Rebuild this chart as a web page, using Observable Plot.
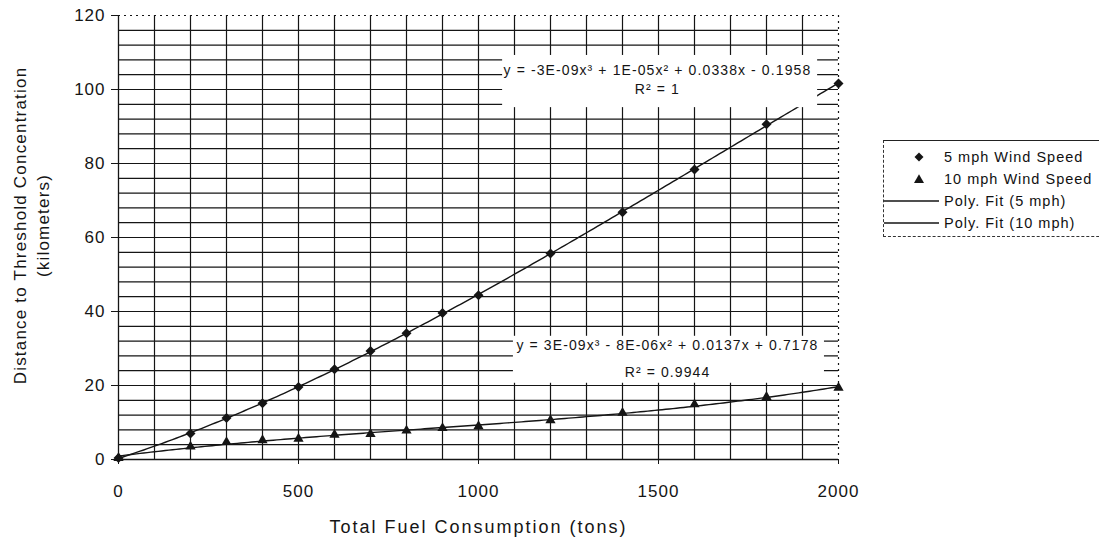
<!DOCTYPE html>
<html><head><meta charset="utf-8">
<script src="https://cdn.jsdelivr.net/npm/d3@7"></script>
<script src="https://cdn.jsdelivr.net/npm/@observablehq/plot@0.6"></script>
<style>
html,body{margin:0;padding:0;background:#fff;overflow:hidden;}
#wrap{position:relative;width:1099px;height:543px;font-family:"Liberation Sans",Arial,sans-serif;}
#legend{position:absolute;left:883px;top:140px;width:240px;border-top:1px solid #222;border-left:1px dashed #333;border-bottom:1px dashed #333;padding:5px 0 2px 0;font-size:14.5px;letter-spacing:1px;color:#111;background:#fff;}
.row{height:22px;display:flex;align-items:center;}
.row svg{width:57px;height:22px;flex:none;}
.row span{margin-left:3px;white-space:nowrap;}
</style></head>
<body><div id="wrap"></div>
<script>
// ---- data ----
const fuel   = [0, 200, 300, 400, 500, 600, 700, 800, 900, 1000, 1200, 1400, 1600, 1800, 2000];
const wind5  = [0.4, 7.0, 11.2, 15.2, 19.6, 24.4, 29.3, 34.1, 39.6, 44.4, 55.7, 66.8, 78.4, 90.6, 101.6];
const wind10 = [0.4, 3.5, 4.7, 5.2, 5.6, 6.7, 6.9, 7.8, 8.5, 9.0, 10.6, 12.6, 14.9, 16.9, 19.4];
const xTicks = [0, 500, 1000, 1500, 2000];
const yTicks = [0, 20, 40, 60, 80, 100, 120];
const seriesNames = ["5 mph Wind Speed", "10 mph Wind Speed", "Poly. Fit (5 mph)", "Poly. Fit (10 mph)"];
const xTitle = "Total Fuel Consumption (tons)";
const yTitle = ["Distance to Threshold Concentration", "(kilometers)"];
// trendline annotations
const eqText = ["y = -3E-09x³ + 1E-05x² + 0.0338x - 0.1958", "R² = 1",
                "y = 3E-09x³ - 8E-06x² + 0.0137x + 0.7178", "R² = 0.9944"];
const eqX = [1497, 1497, 1525, 1525];
const eqY = [105.1, 100.0, 30.9, 23.6];
const boxX1 = [1067, 1097], boxX2 = [1942, 1961], boxY1 = [95.1, 20.6], boxY2 = [109.2, 33.3];

// ---- derived tables ----
const pts5 = fuel.map((x, i) => ({x, y: wind5[i]}));
const pts10 = fuel.map((x, i) => ({x, y: wind10[i]}));
function cubicFit(xs, ys) {
  const n = 4, A = Array.from({length: n}, () => Array(n + 1).fill(0));
  xs.forEach((x, k) => {
    const t = x / 1000, p = [1, t, t * t, t * t * t];
    for (let i = 0; i < n; i++) { for (let j = 0; j < n; j++) A[i][j] += p[i] * p[j]; A[i][n] += p[i] * ys[k]; }
  });
  for (let c = 0; c < n; c++) {
    let piv = c;
    for (let r = c + 1; r < n; r++) if (Math.abs(A[r][c]) > Math.abs(A[piv][c])) piv = r;
    [A[c], A[piv]] = [A[piv], A[c]];
    for (let r = 0; r < n; r++) if (r !== c) { const f = A[r][c] / A[c][c]; for (let k = c; k <= n; k++) A[r][k] -= f * A[c][k]; }
  }
  const co = A.map((row, i) => row[n] / row[i]);
  return x => { const t = x / 1000; return co[0] + co[1] * t + co[2] * t * t + co[3] * t * t * t; };
}
const f5 = cubicFit(fuel, wind5), f10 = cubicFit(fuel, wind10);
const xs = d3.range(0, 2001, 10);
const fit5 = xs.map(x => ({x, y: f5(x)}));
const fit10 = xs.map(x => ({x, y: f10(x)}));
const eqs = eqText.map((t, i) => ({x: eqX[i], y: eqY[i], t}));
const boxes = boxX1.map((x1, i) => ({x1, x2: boxX2[i], y1: boxY1[i], y2: boxY2[i]}));
const xGrid = d3.range(100, 2000, 100);
const yGrid = d3.range(4, 120, 4);

const ink = "#151515";
const chart = Plot.plot({
  width: 1099, height: 543,
  marginLeft: 118, marginRight: 261, marginTop: 15, marginBottom: 84,
  style: {fontFamily: "Liberation Sans, Arial, sans-serif", fontSize: "17px", background: "transparent", color: ink, overflow: "visible"},
  x: {domain: [0, 2000]},
  y: {domain: [0, 120]},
  marks: [
    Plot.ruleX(xGrid, {stroke: ink, strokeWidth: 1.2}),
    Plot.ruleY(yGrid, {stroke: ink, strokeWidth: 1.2}),
    Plot.ruleY([120], {stroke: ink, strokeWidth: 1.2, strokeDasharray: "2,4"}),
    Plot.ruleX([2000], {stroke: ink, strokeWidth: 1.2, strokeDasharray: "2,4"}),
    Plot.ruleY([0], {stroke: ink, strokeWidth: 1.3}),
    Plot.ruleX([0], {stroke: ink, strokeWidth: 1.3}),
    Plot.axisX({ticks: xTicks, tickFormat: d => String(d), tickSize: 5, tickPadding: 20, fontSize: 17, label: null, stroke: ink}),
    Plot.axisY({ticks: yTicks, tickFormat: d => String(d), tickSize: 7, tickPadding: 6, fontSize: 17, label: null, stroke: ink}),
    Plot.line(fit5, {x: "x", y: "y", stroke: ink, strokeWidth: 1.4}),
    Plot.line(fit10, {x: "x", y: "y", stroke: ink, strokeWidth: 1.4}),
    Plot.rect(boxes, {x1: "x1", x2: "x2", y1: "y1", y2: "y2", fill: "white"}),
    Plot.text(eqs, {x: "x", y: "y", text: "t", fontSize: 14, fill: ink}),
    Plot.dot(pts5, {x: "x", y: "y", symbol: "diamond2", r: 4.5, fill: ink, stroke: "none"}),
    Plot.dot(pts10, {x: "x", y: "y", symbol: "triangle", r: 3.8, fill: ink, stroke: "none"}),
    Plot.text([xTitle], {frameAnchor: "bottom", dy: 68, textAnchor: "middle", lineAnchor: "middle", fontSize: 18, fill: ink}),
    Plot.text([yTitle[0]], {frameAnchor: "left", dx: -98, dy: -12, rotate: -90, textAnchor: "middle", lineAnchor: "middle", fontSize: 17, fill: ink}),
    Plot.text([yTitle[1]], {frameAnchor: "left", dx: -75, dy: -12, rotate: -90, textAnchor: "middle", lineAnchor: "middle", fontSize: 17, fill: ink})
  ]
});
const wrap = document.getElementById("wrap");
wrap.appendChild(chart);
// letter spacing to match the wide scanned lettering
d3.select(chart).selectAll("text").each(function () {
  const s = this.textContent;
  let ls = "1px";
  if (s === xTitle) ls = "2px";
  else if (yTitle.includes(s)) ls = "1.2px";
  else if (eqText.includes(s)) ls = "1.1px";
  this.style.letterSpacing = ls;
});

// legend
const legend = document.createElement("div");
legend.id = "legend";
const icons = [
  `<polygon points="35,6.5 39.5,11 35,15.5 30.5,11" fill="${ink}"/>`,
  `<polygon points="35,6.3 40,15 30,15" fill="${ink}"/>`,
  `<line x1="0" y1="11" x2="55" y2="11" stroke="${ink}" stroke-width="1.3"/>`,
  `<line x1="0" y1="11" x2="55" y2="11" stroke="${ink}" stroke-width="1.3"/>`
];
seriesNames.forEach((name, i) => {
  const row = document.createElement("div");
  row.className = "row";
  row.innerHTML = `<svg viewBox="0 0 57 22">${icons[i]}</svg><span></span>`;
  row.querySelector("span").textContent = name;
  legend.appendChild(row);
});
wrap.appendChild(legend);
</script></body></html>
